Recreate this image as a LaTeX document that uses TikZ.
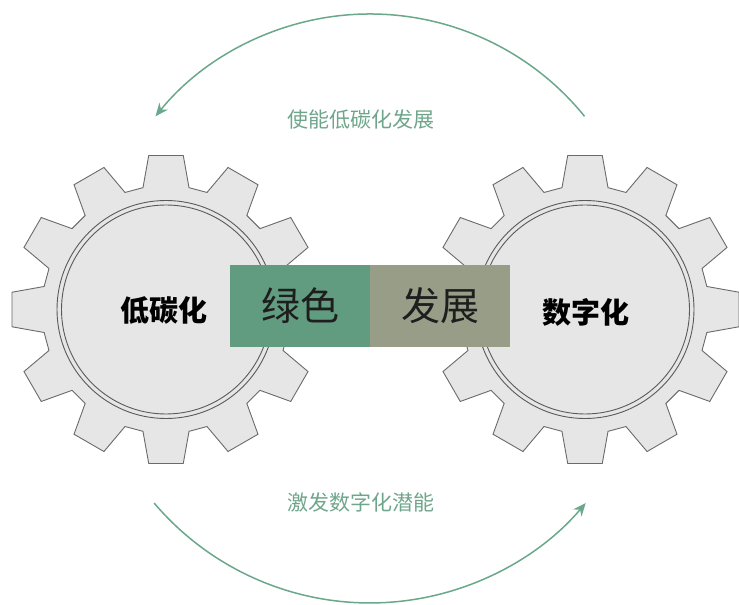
\documentclass[tikz,border=0pt]{standalone}
\usepackage{fontspec}
\newfontfamily\cjk{Noto Sans CJK SC}
\usetikzlibrary{arrows.meta}
\definecolor{gearfill}{HTML}{E6E6E6}
\definecolor{gearline}{HTML}{6A6A6A}
\definecolor{boxgreen}{HTML}{619C80}
\definecolor{boxolive}{HTML}{979D87}
\definecolor{arrowgreen}{HTML}{6AA88B}
\definecolor{labelgreen}{HTML}{6FA68B}
\definecolor{darktext}{HTML}{1E1E1E}
\tikzset{
  gearshape/.style={fill=gearfill, draw=gearline, line width=0.9pt, line join=miter},
  ring/.style={draw=gearline!85!black, line width=0.9pt},
  gear/.pic={
    \path[gearshape] (-10.7:124pt)
      \foreach \a in {0,30,...,330}{ -- (\a-10.7:124pt) -- (\a-6.4:155pt) -- (\a+6.4:155pt) -- (\a+10.7:124pt)} -- cycle;
    \draw[ring] (0,0) circle[radius=109pt];
    \draw[ring] (0,0) circle[radius=104.5pt];
  },
  colbox/.style={inner sep=0pt, minimum width=140pt, minimum height=82pt, draw=none,
    text=darktext, font=\cjk\fontsize{39}{42}\selectfont},
  gearlabel/.style={text=black, font=\cjk\bfseries\fontsize{29}{31}\selectfont},
  arclabel/.style={text=labelgreen, font=\cjk\fontsize{21}{23}\selectfont},
  flow/.style={draw=arrowgreen, line width=1.5pt, -{Stealth[length=13pt,width=11pt]}}
}
\begin{document}
\begin{tikzpicture}[x=1pt,y=1pt]
\useasboundingbox (0,0) rectangle (739,605);
\pic (lg) at (166,295.5) {gear};
\pic (rg) at (585,295.5) {gear};
\node[colbox, fill=boxgreen] (gb) at (300,299) {绿色};
\node[colbox, fill=boxolive] (ob) at (440,299) {发展};
\node[gearlabel] (lt) at (164,295) {低碳化};
\node[gearlabel] (rt) at (586,293) {数字化};
\coordinate (ts) at (584.5,488.7);
\coordinate (bs) at (154.1,102);
\draw[flow] (ts) arc[start angle=39, end angle=141, radius=276pt];
\draw[flow] (bs) arc[start angle=-139.7, end angle=-40.3, radius=283pt];
\node[arclabel] (tl) at (361,485) {使能低碳化发展};
\node[arclabel] (bl) at (361,103) {激发数字化潜能};
\end{tikzpicture}
\end{document}
